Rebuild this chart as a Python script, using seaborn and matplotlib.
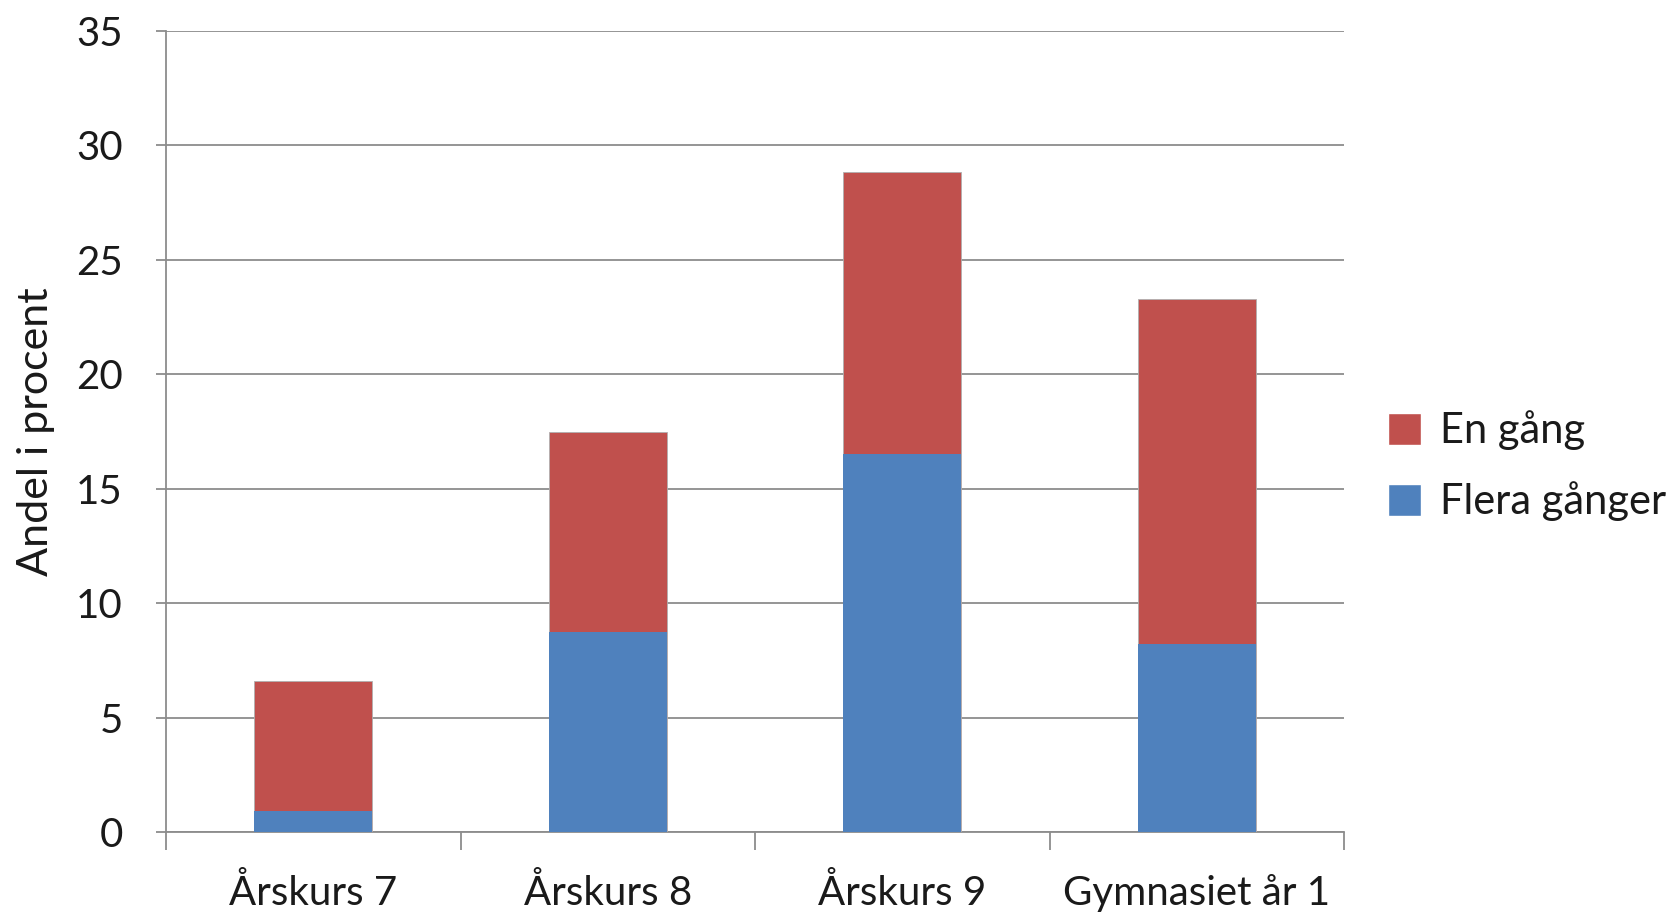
import matplotlib
matplotlib.use("Agg")
import matplotlib.pyplot as plt
import seaborn as sns
import pandas as pd
from matplotlib.patches import Patch

categories = ["Årskurs 7", "Årskurs 8", "Årskurs 9", "Gymnasiet år 1"]
flera_ganger = [0.9, 8.75, 16.5, 8.2]
en_gang = [5.7, 8.75, 12.35, 15.1]
yticks = [0, 5, 10, 15, 20, 25, 30, 35]

totals = [a + b for a, b in zip(flera_ganger, en_gang)]
df = pd.DataFrame({"cat": categories, "blue": flera_ganger, "total": totals})

sns.set_style("white")
plt.rcParams['font.family'] = ['Lato', 'DejaVu Sans']

RED = "#C0504D"
BLUE = "#4F81BD"
GRID = "#8C8C8C"
TXT = "#1a1a1a"

fig = plt.figure(figsize=(16.75, 9.19), dpi=100)
ax = fig.add_axes([166/1675, 1 - 832/919, (1344-166)/1675, (832-31)/919])

sns.barplot(data=df, x="cat", y="total", color=RED, width=0.4, ax=ax,
            saturation=1, edgecolor="#B0B0B0", linewidth=0.6, zorder=3)
sns.barplot(data=df, x="cat", y="blue", color=BLUE, width=0.4, ax=ax,
            saturation=1, linewidth=0, zorder=4)

ax.set_xlim(-0.5, 3.5)
ax.set_ylim(0, 35)
ax.set_yticks(yticks)
ax.set_yticklabels([str(t) for t in yticks])
ax.yaxis.grid(True, color=GRID, linewidth=1.3, zorder=0)
ax.set_axisbelow(True)
ax.set_xlabel("")
ax.set_ylabel("Andel i procent", fontsize=31, color=TXT)
ax.yaxis.set_label_coords(-0.094, 0.5)

for s in ["top", "right"]:
    ax.spines[s].set_visible(False)
for s in ["left", "bottom"]:
    ax.spines[s].set_color(GRID)
    ax.spines[s].set_linewidth(1.3)

ax.tick_params(axis="y", labelsize=29, length=7, width=1.3, color=GRID,
               labelcolor=TXT, pad=24, left=True)
ax.set_xticks(range(len(categories)))
ax.set_xticklabels(categories)
ax.tick_params(axis="x", which="major", labelsize=29, length=0, pad=30,
               labelcolor=TXT)
ax.set_xticks([-0.5, 0.5, 1.5, 2.5, 3.5], minor=True)
ax.tick_params(axis="x", which="minor", length=13, width=1.3, color=GRID,
               bottom=True, direction="out")

handles = [Patch(facecolor=RED, label="En gång"),
           Patch(facecolor=BLUE, label="Flera gånger")]
fig.legend(handles=handles, loc="center left", bbox_to_anchor=(1388/1675, 1 - 466/919),
           frameon=False, fontsize=30, handlelength=0.8, handleheight=0.8,
           handletextpad=0.45, labelspacing=0.75, labelcolor=TXT,
           borderaxespad=0, borderpad=0)

fig.savefig("out.png", dpi=100)
